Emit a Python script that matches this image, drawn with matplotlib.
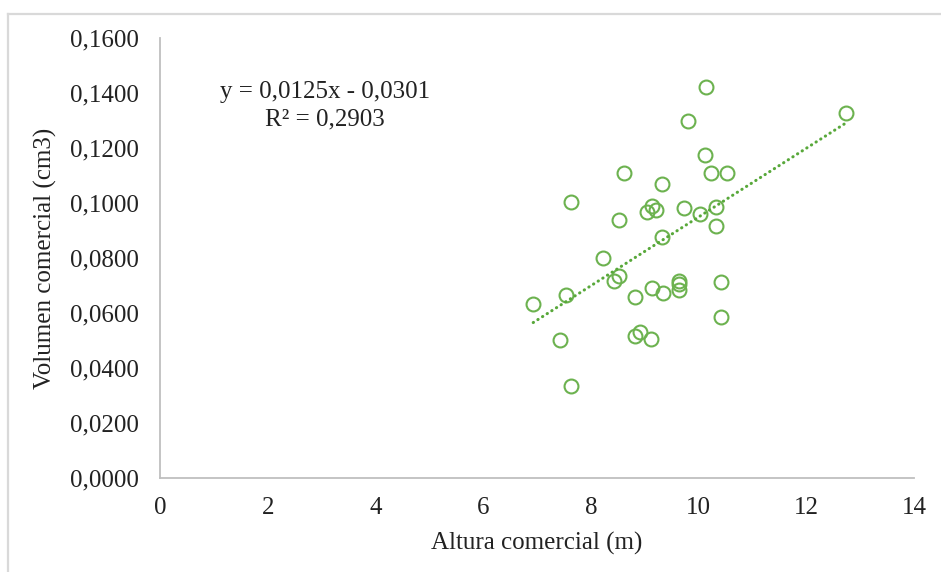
import matplotlib
matplotlib.use("Agg")
import matplotlib.pyplot as plt
from matplotlib.lines import Line2D
from matplotlib.ticker import FuncFormatter

# Commercial height (m) and commercial volume (cm3) per tree
altura = [12.74, 10.14, 9.80, 10.12, 10.23, 10.53, 8.62, 9.32, 7.63, 9.14,
          9.73, 10.32, 9.21, 9.04, 10.03, 8.52, 10.32, 9.32, 8.23, 8.52,
          8.43, 9.64, 9.64, 9.64, 10.42, 9.14, 9.34, 7.54, 8.82, 6.93,
          10.42, 8.91, 8.82, 9.12, 7.43, 7.63]
volumen = [0.1327, 0.1423, 0.1298, 0.1175, 0.1110, 0.1110, 0.1110, 0.1068, 0.1005, 0.0990,
           0.0982, 0.0986, 0.0975, 0.0967, 0.0960, 0.0938, 0.0917, 0.0875, 0.0800, 0.0735,
           0.0717, 0.0718, 0.0704, 0.0685, 0.0714, 0.0690, 0.0673, 0.0667, 0.0658, 0.0633,
           0.0585, 0.0531, 0.0515, 0.0505, 0.0502, 0.0336]

# Linear trend line coefficients
pendiente = 0.0125
intercepto = -0.0301
r2 = 0.2903

x_ticks = [0, 2, 4, 6, 8, 10, 12, 14]
y_ticks = [0.0, 0.02, 0.04, 0.06, 0.08, 0.10, 0.12, 0.14, 0.16]

plt.rcParams['font.family'] = ['Liberation Serif', 'DejaVu Serif']

W, H = 941, 572
fig = plt.figure(figsize=(W / 100, H / 100), dpi=100)
ax = fig.add_axes([160 / W, 1 - 478 / H, (914 - 160) / W, (478 - 38) / H])

verde = '#6cb24f'
ax.plot(altura, volumen, linestyle='none', marker='o', markersize=10,
        markerfacecolor='none', markeredgecolor=verde, markeredgewidth=1.5)

x0, x1 = min(altura), max(altura)
ax.plot([x0, x1], [pendiente * x0 + intercepto, pendiente * x1 + intercepto],
        color='#58a83a', linewidth=2.2, linestyle=(0, (0.1, 1.7)),
        dash_capstyle='round')

fs = 18
ax.set_xlim(0, 14)
ax.set_ylim(0, 0.16)
ax.set_xticks(x_ticks)
ax.set_yticks(y_ticks)
ax.yaxis.set_major_formatter(FuncFormatter(lambda v, p: f"{v:.4f}".replace('.', ',')))
ax.tick_params(length=0, labelsize=fs, colors='#222222')
ax.tick_params(axis='y', pad=15.5)
ax.tick_params(axis='x', pad=14)
for s in ['top', 'right']:
    ax.spines[s].set_visible(False)
for s in ['left', 'bottom']:
    ax.spines[s].set_color('#bfbfbf')
    ax.spines[s].set_linewidth(1.3)

ax.set_xlabel('Altura comercial (m)', fontsize=fs, color='#222222', labelpad=9)
ax.set_ylabel('Volumen comercial (cm3)', fontsize=fs, color='#222222', labelpad=9)

eq = f"y = {pendiente:.4f}x - {abs(intercepto):.4f}".replace('.', ',')
r2txt = f"R² = {r2:.4f}".replace('.', ',')
fig.text(325 / W, 1 - 92 / H, eq, ha='center', va='center', fontsize=fs, color='#222222')
fig.text(325 / W, 1 - 119 / H, r2txt, ha='center', va='center', fontsize=fs, color='#222222')

# Outer frame lines
fig.add_artist(Line2D([8 / W, 8 / W], [0, 1 - 13.5 / H], transform=fig.transFigure,
                      color='#d9d9d9', linewidth=1.6))
fig.add_artist(Line2D([8 / W, 1], [1 - 13.5 / H, 1 - 13.5 / H], transform=fig.transFigure,
                      color='#d9d9d9', linewidth=1.6))

fig.savefig('out.png', dpi=100)
